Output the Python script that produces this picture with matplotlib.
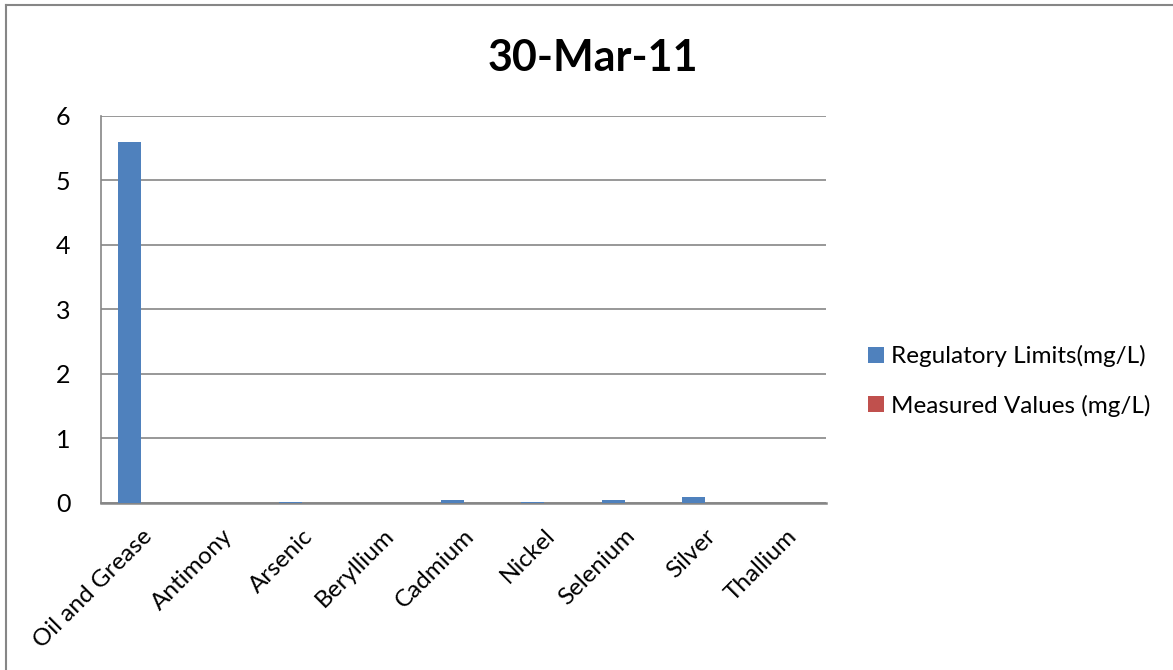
import numpy as np
import matplotlib
matplotlib.use("Agg")
import matplotlib.pyplot as plt
from matplotlib.lines import Line2D

plt.rcParams['font.family'] = ['Lato', 'DejaVu Sans']

# data
categories = ["Oil and Grease", "Antimony", "Arsenic", "Beryllium", "Cadmium",
              "Nickel", "Selenium", "Silver", "Thallium"]
regulatory = [5.6, 0.006, 0.01, 0.004, 0.05, 0.02, 0.05, 0.1, 0.002]
measured = [0, 0, 0, 0, 0, 0, 0, 0, 0]
yticks = [0, 1, 2, 3, 4, 5, 6]

blue = "#4f81bd"
red = "#c0504d"
grid_col = "#868686"

fig = plt.figure(figsize=(11.73, 6.70), dpi=100)
ax = fig.add_axes([0.0861, 0.2493, 0.6181, 0.5776])

x = np.arange(len(categories))
w = 0.285
ax.bar(x - w / 2, regulatory, w, color=blue, label="Regulatory Limits(mg/L)", zorder=3)
ax.bar(x + w / 2, measured, w, color=red, label="Measured Values (mg/L)", zorder=3)

ax.set_xlim(-0.5, len(categories) - 0.5)
ax.set_ylim(0, 6)
ax.set_yticks(yticks)
ax.set_yticklabels([str(t) for t in yticks], fontsize=18)
ax.yaxis.grid(True, color=grid_col, linewidth=1.2, zorder=0)
ax.set_xticks(x)
ax.set_xticklabels(categories, rotation=45, ha="right", rotation_mode="anchor", fontsize=17.5)
ax.tick_params(axis="y", length=0, pad=22)
ax.tick_params(axis="x", length=0, pad=16)
for s in ["top", "right"]:
    ax.spines[s].set_visible(False)
ax.spines["left"].set_color(grid_col)
ax.spines["bottom"].set_color(grid_col)
ax.spines["left"].set_linewidth(1.2)
ax.spines["bottom"].set_linewidth(1.8)

fig.text(0.5055, 0.913, "30-Mar-11", fontsize=31, fontweight="bold", ha="center", va="center")

ax.legend(loc="center left", bbox_to_anchor=(1.028, 0.315), frameon=False, fontsize=17.5,
          handlelength=0.65, handleheight=0.65, handletextpad=0.3, labelspacing=1.12)

# chart border
fig.add_artist(Line2D([0.0055, 0.0055], [0, 0.9925], color=grid_col, lw=1.5))
fig.add_artist(Line2D([0.0055, 1], [0.9925, 0.9925], color=grid_col, lw=1.5))

fig.savefig("out.png", dpi=100)
